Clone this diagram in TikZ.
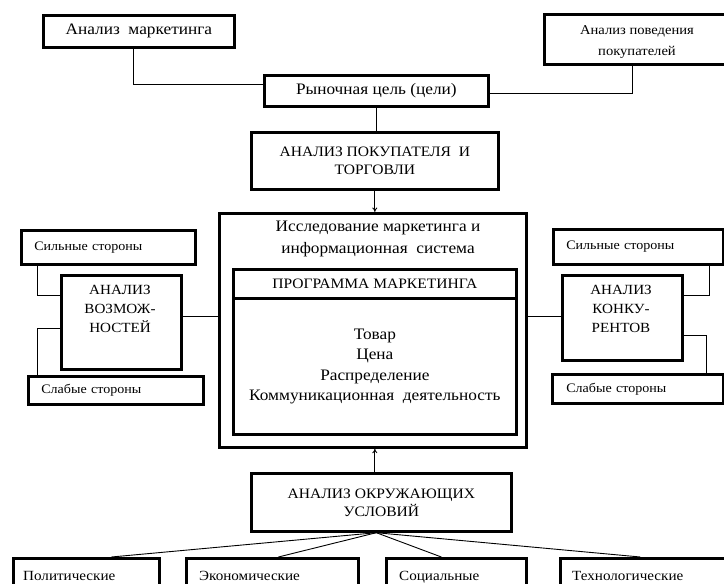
\documentclass[tikz,border=0pt]{standalone}
\usepackage{fontspec}
\setmainfont{Liberation Serif}[FakeStretch=1.08]
\usetikzlibrary{arrows.meta}
\begin{document}
\begin{tikzpicture}[x=1pt,y=-1pt,
  box/.style={draw, line width=2.7pt, inner sep=0pt, anchor=north west},
  conn/.style={line width=0.9pt},
  arr/.style={conn,-{To[length=4.5pt,width=5pt]}},
  lowf/.style={font=\rmfamily\fontsize{16pt}{20pt}\selectfont},
  capf/.style={font=\rmfamily\fontsize{14.4pt}{18pt}\selectfont},
  sidef/.style={font=\rmfamily\fontsize{14pt}{19pt}\selectfont},
  smallf/.style={font=\rmfamily\fontsize{13pt}{21pt}\selectfont},
  botf/.style={font=\rmfamily\fontsize{14pt}{16pt}\selectfont, anchor=base west, inner sep=0pt}]
\clip (0,0) rectangle (724,584);
\fill[white] (0,0) rectangle (724,584);
% top row
\node[box, lowf, minimum width=191pt, minimum height=32pt] (mark) at (42,14) {Анализ\ \ маркетинга};
\node[box, minimum width=190pt, minimum height=50pt] (beh) at (543,13) {};
\node[align=center, inner sep=0pt, font=\rmfamily\fontsize{13.5pt}{21pt}\selectfont] (behtxt) at (637,42) {Анализ поведения\\покупателей};
\node[box, lowf, minimum width=224pt, minimum height=31pt] (goal) at (263,74) {Рыночная цель (цели)};
\node[box, align=center, capf, minimum width=247pt, minimum height=57pt] (buyer) at (250,131) {АНАЛИЗ ПОКУПАТЕЛЯ\ \ И\\ТОРГОВЛИ};
% central block
\node[box, minimum width=307pt, minimum height=234pt] (big) at (218,212) {};
\node[align=center, inner sep=0pt, font=\rmfamily\fontsize{16pt}{22pt}\selectfont] (bigtxt) at (378,239) {Исследование маркетинга и\\информационная\ \ система};
\node[box, capf, minimum width=283pt, minimum height=29pt] (prog) at (232,268) {ПРОГРАММА МАРКЕТИНГА};
\node[box, align=center, font=\rmfamily\fontsize{16pt}{20.5pt}\selectfont, minimum width=283pt, minimum height=136pt] (mix) at (232,297) {Товар\\Цена\\Распределение\\Коммуникационная\ \ деятельность};
% left side
\node[box, smallf, align=left, inner xsep=13pt, text width=148pt, minimum height=34pt] (s1) at (20,229) {Сильные стороны};
\node[box, minimum width=120pt, minimum height=94pt] (vozm) at (60,274) {};
\node[anchor=north, align=center, inner sep=0pt, sidef] (vozmtxt) at (120,285) {АНАЛИЗ\\ВОЗМОЖ-\\НОСТЕЙ};
\node[box, smallf, align=left, inner xsep=13pt, text width=149pt, minimum height=28pt] (w1) at (27,375) {Слабые стороны};
% right side
\node[box, smallf, align=left, inner xsep=13pt, text width=144pt, minimum height=35pt] (s2) at (552,228) {Сильные стороны};
\node[box, minimum width=120pt, minimum height=85pt] (konk) at (561,274) {};
\node[anchor=north, align=center, inner sep=0pt, sidef] (konktxt) at (621,285) {АНАЛИЗ\\КОНКУ-\\РЕНТОВ};
\node[box, smallf, align=left, inner xsep=14pt, text width=143pt, minimum height=29pt] (w2) at (551,373) {Слабые стороны};
% environment
\node[box, align=center, capf, minimum width=260pt, minimum height=58pt] (env) at (250,472) {АНАЛИЗ ОКРУЖАЮЩИХ\\УСЛОВИЙ};
\node[box, minimum width=146pt, minimum height=60pt] (pol) at (12,557) {};
\node[box, minimum width=172pt, minimum height=60pt] (eco) at (185,557) {};
\node[box, minimum width=140pt, minimum height=60pt] (soc) at (385,557) {};
\node[box, minimum width=181pt, minimum height=60pt] (tech) at (559,557) {};
\node[botf] (poltxt) at (23,580) {Политические};
\node[botf] (ecotxt) at (199,580) {Экономические};
\node[botf] (soctxt) at (399,580) {Социальные};
\node[botf] (techtxt) at (572,580) {Технологические};
% connectors top
\draw[conn] ([xshift=-5pt]mark.south) |- ([yshift=6.5pt]goal.west);
\draw[conn] ([xshift=-6.5pt]beh.south) |- ([yshift=-2.5pt]goal.east);
\draw[conn] (goal.south) -- (goal.south |- buyer.north);
\draw[arr] (buyer.south) -- (buyer.south |- big.north);
\draw[arr] (env.north -| buyer.south) -- (buyer.south |- big.south);
% connectors left
\draw[conn] ([xshift=17pt]s1.south west) |- ([yshift=-21pt]vozm.north west);
\draw[conn] ([yshift=-54pt]vozm.north west) -| ([xshift=10pt]w1.north west);
\draw[conn] ([yshift=6pt]vozm.east) -- ([yshift=6pt]vozm.east -| big.west);
% connectors right
\draw[conn] ([xshift=-15pt]s2.south east) |- ([yshift=-21pt]konk.north east);
\draw[conn] ([yshift=-61pt]konk.north east) -| ([xshift=-18pt]w2.north east);
\draw[conn] ([yshift=1.5pt]konk.west) -- ([yshift=1.5pt]konk.west -| big.east);
% fan
\coordinate (fan) at ([xshift=-5pt]env.south);
\draw[conn] (fan) -- ([xshift=25pt]pol.north);
\draw[conn] (fan) -- ([xshift=6pt]eco.north);
\draw[conn] (fan) -- ([xshift=-15pt]soc.north);
\draw[conn] (fan) -- ([xshift=-10.5pt]tech.north);
\end{tikzpicture}
\end{document}
